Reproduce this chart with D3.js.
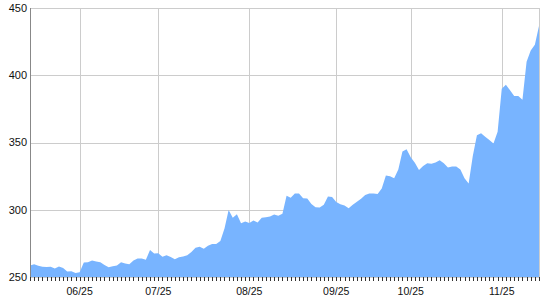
<!DOCTYPE html>
<html><head><meta charset="utf-8">
<script src="https://cdn.jsdelivr.net/npm/d3@7"></script>
<style>html,body{margin:0;padding:0;background:#fff;}svg{display:block;}</style>
</head><body>
<svg id="c" width="540" height="300"></svg>
<script>
const values = [
 258.6,259.5,258.4,257.6,257.5,257.6,256.3,257.8,256.6,254.0,
 254.2,253.0,253.5,260.7,261.0,262.2,261.5,260.9,259.0,257.2,
 258.0,258.5,260.9,260.0,259.5,262.2,263.7,263.7,262.8,270.0,
 267.5,267.6,265.0,266.1,264.8,263.2,264.7,265.3,266.1,268.5,
 271.7,272.4,271.0,273.2,274.5,274.6,276.7,286.0,299.8,294.0,
 296.7,290.0,291.2,290.2,292.0,290.5,294.0,294.4,295.0,296.4,
 295.6,297.0,310.4,309.0,312.0,312.1,308.6,308.3,304.2,301.8,
 301.6,303.8,309.8,309.5,305.8,304.0,303.2,301.2,303.7,305.9,
 308.2,310.9,312.0,312.0,311.8,315.8,325.4,324.9,323.5,330.0,
 343.3,345.0,339.0,335.0,329.6,332.5,334.6,334.2,335.1,336.8,
 334.5,331.4,332.1,332.1,330.0,323.5,319.6,340.0,355.4,356.9,
 354.2,351.9,349.2,358.0,390.0,393.0,388.8,384.5,384.6,381.7,
 410.0,418.4,422.6,436.7
];
const tickIndex = [12, 31, 53, 74, 92, 114];
const tickLabels = ["06/25", "07/25", "08/25", "09/25", "10/25", "11/25"];
const yTicks = [250, 300, 350, 400, 450];

const svg = d3.select("#c");
const L = 30, R = 539, T = 8, B = 277;
const x = d3.scaleLinear().domain([0, values.length - 1]).range([L, R]);
const y = d3.scaleLinear().domain([250, 450]).range([B, T]);

// horizontal gridlines
svg.append("g").selectAll("line").data(yTicks).join("line")
  .attr("x1", L).attr("x2", R)
  .attr("y1", d => Math.round(y(d)) + 0.5).attr("y2", d => Math.round(y(d)) + 0.5)
  .attr("stroke", "#cccccc").attr("stroke-width", 1);
// vertical gridlines
svg.append("g").selectAll("line").data(tickIndex).join("line")
  .attr("x1", d => Math.round(x(d)) + 0.5).attr("x2", d => Math.round(x(d)) + 0.5)
  .attr("y1", T).attr("y2", B)
  .attr("stroke", "#cccccc").attr("stroke-width", 1);
// right border
svg.append("line").attr("x1", R + 0.5).attr("x2", R + 0.5).attr("y1", T).attr("y2", B)
  .attr("stroke", "#cccccc");

// area
const area = d3.area().x((d, i) => x(i)).y0(y(250)).y1(d => y(d));
svg.append("path").datum(values).attr("d", area).attr("fill", "#78b4ff");

// left axis line
svg.append("line").attr("x1", L + 0.5).attr("x2", L + 0.5).attr("y1", T).attr("y2", B + 1)
  .attr("stroke", "#888888");

// y labels
svg.append("g").selectAll("text").data(yTicks).join("text")
  .attr("x", 27).attr("y", d => y(d)).attr("dy", "0.35em")
  .attr("text-anchor", "end")
  .attr("font-family", "Liberation Sans, Arial, sans-serif").attr("font-size", 11)
  .attr("fill", "#111").text(d => d);

// bottom minor ticks
svg.append("g").selectAll("line").data(d3.range(values.length)).join("line")
  .attr("x1", d => Math.round(x(d)) + 0.5).attr("x2", d => Math.round(x(d)) + 0.5)
  .attr("y1", B).attr("y2", B + 4)
  .attr("stroke", "#333333");

// x labels
svg.append("g").selectAll("text").data(tickIndex).join("text")
  .attr("x", d => x(d)).attr("y", 295)
  .attr("text-anchor", "middle")
  .attr("font-family", "Liberation Sans, Arial, sans-serif").attr("font-size", 10.5)
  .attr("fill", "#111").text((d, i) => tickLabels[i]);
</script>
</body></html>
